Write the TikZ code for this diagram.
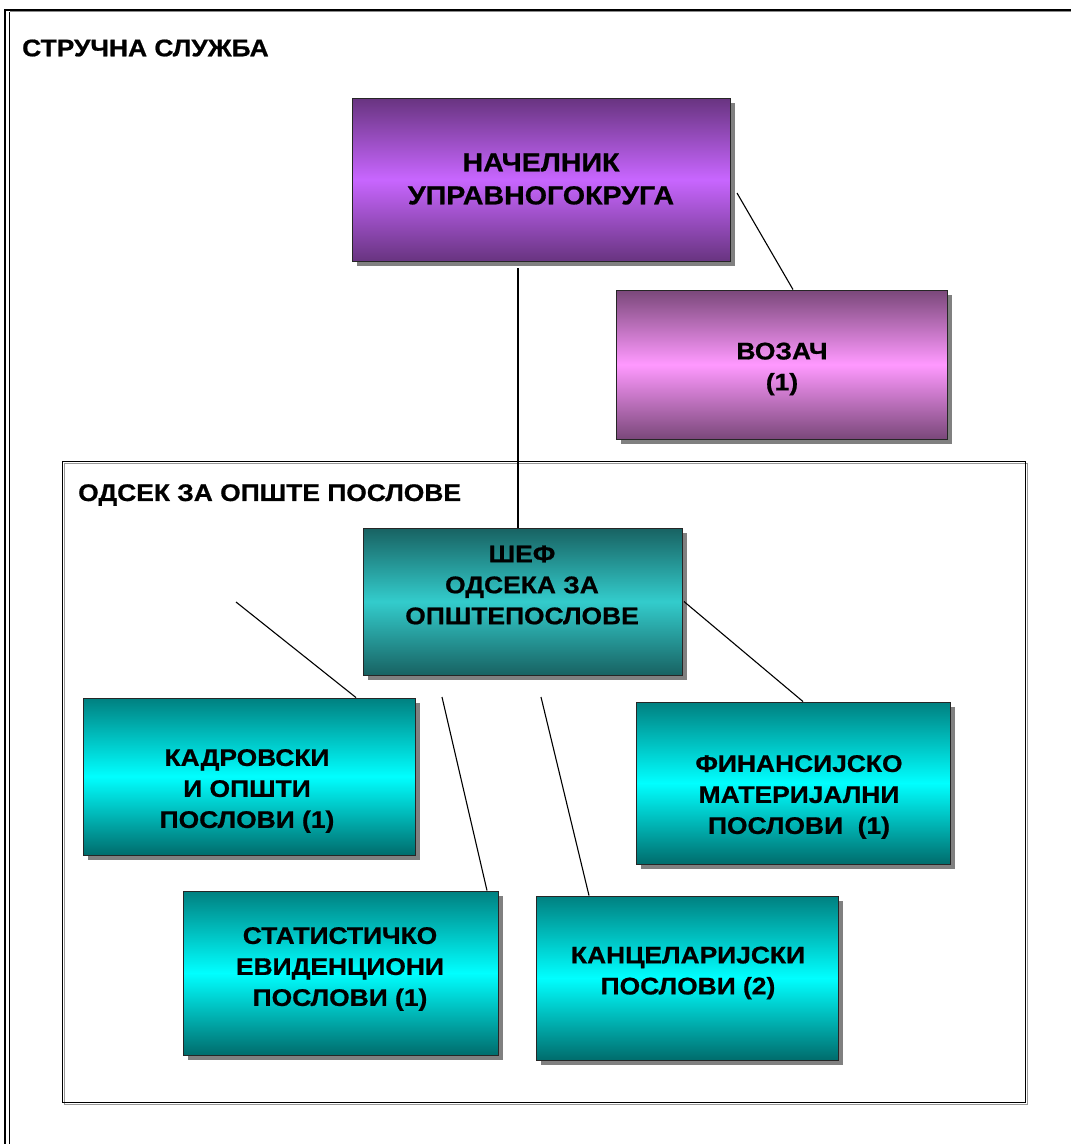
\documentclass[tikz,border=0pt]{standalone}
\usepackage{fontspec}
\setmainfont[FakeStretch=1.1, BoldFeatures={FakeStretch=1.1, FakeBold=0.8}]{Liberation Sans}
\usetikzlibrary{shadows,calc}
\begin{document}
\begin{tikzpicture}[x=1pt,y=-1pt,
  box/.style={draw=black!85, line width=0.9pt, inner sep=0pt,
    drop shadow={shadow xshift=5pt, shadow yshift=-5pt, fill=black!50, opacity=1}},
  purpleA/.style={top color=purpA, bottom color=purpA, middle color=purpB},
  purpleB/.style={top color=pinkA, bottom color=pinkA, middle color=pinkB},
  tealA/.style={top color=sefA, bottom color=sefA, middle color=sefB},
  tealB/.style={top color=cyA, bottom color=cyC, middle color=cyB},
  txt/.style={align=center, inner sep=0pt, font=\bfseries\fontsize{24}{31}\selectfont},
  head/.style={inner sep=0pt, anchor=west, font=\bfseries\fontsize{24}{28}\selectfont},
  conn/.style={draw=black, line width=1.1pt}]
\definecolor{purpA}{RGB}{104,52,128}
\definecolor{purpB}{RGB}{200,102,255}
\definecolor{pinkA}{RGB}{122,72,122}
\definecolor{pinkB}{RGB}{255,153,255}
\definecolor{sefA}{RGB}{24,98,98}
\definecolor{sefB}{RGB}{51,204,204}
\definecolor{cyA}{RGB}{0,128,128}
\definecolor{cyB}{RGB}{0,255,255}
\definecolor{cyC}{RGB}{0,108,108}
\useasboundingbox (0,0) rectangle (1071,1144);
\fill[white] (0,0) rectangle (1071,1144);
% outer frame
\draw[black!45, line width=1pt] (10,11.5) -- (1071,11.5);
\draw[black, line width=2pt] (5,1144) -- (5,9.5) -- (1071,9.5);
\draw[black, line width=1pt] (9,12) -- (9,1144);
\node[head] (title) at (22,48) {СТРУЧНА СЛУЖБА};
% section frame
\draw[black!40, line width=1pt] (64,463) rectangle (1027,1104);
\draw[black, line width=1pt] (62,461) rectangle (1025,1102);
\node[head] (sect) at (78,495) {ОДСЕК ЗА ОПШТЕ ПОСЛОВЕ};
% boxes
\node[box, purpleA, minimum width=378pt, minimum height=163pt] (nach) at (541,179.5) {};
\node[txt, font=\bfseries\fontsize{26}{33}\selectfont] (nachT) at (541,179) {НАЧЕЛНИК\\УПРАВНОГОКРУГА};
\node[box, purpleB, minimum width=331pt, minimum height=149pt] (voz) at (781.5,364.5) {};
\node[txt] (vozT) at (782,369) {ВОЗАЧ\\(1)};
\node[box, tealA, minimum width=319pt, minimum height=147pt] (sef) at (522.5,601.5) {};
\node[txt] (sefT) at (522,585) {ШЕФ\\ОДСЕКА ЗА\\ОПШТЕПОСЛОВЕ};
\node[box, tealB, minimum width=332pt, minimum height=157pt] (kadr) at (249,776.5) {};
\node[txt] (kadrT) at (247,791) {КАДРОВСКИ\\И ОПШТИ\\ПОСЛОВИ (1)};
\node[box, tealB, minimum width=314pt, minimum height=162pt] (fin) at (793,783) {};
\node[txt] (finT) at (799,797) {ФИНАНСИЈСКО\\МАТЕРИЈАЛНИ\\ПОСЛОВИ\ \ (1)};
\node[box, tealB, minimum width=315pt, minimum height=164pt] (stat) at (340.5,973) {};
\node[txt] (statT) at (340,969) {СТАТИСТИЧКО\\ЕВИДЕНЦИОНИ\\ПОСЛОВИ (1)};
\node[box, tealB, minimum width=302pt, minimum height=164pt] (kanc) at (687,978) {};
\node[txt] (kancT) at (688,973) {КАНЦЕЛАРИЈСКИ\\ПОСЛОВИ (2)};
% connectors
\coordinate (nachB) at (518,268);
\coordinate (nachR) at (737,193);
\coordinate (kadrS) at (236,602);
\coordinate (statS) at (442,697);
\coordinate (kancS) at (541,697);
\draw[conn] (nachB) -- (nachB |- sef.north);
\draw[conn] (nachR) -- ($(voz.north)+(11.5,0)$);
\draw[conn] (kadrS) -- ($(kadr.north)+(107,0)$);
\draw[conn] ($(sef.east)+(1.5,0)$) -- ($(fin.north)+(10,0)$);
\draw[conn] (statS) -- ($(stat.north)+(146.5,0)$);
\draw[conn] (kancS) -- ($(kanc.north)+(-98,0)$);
\end{tikzpicture}
\end{document}
